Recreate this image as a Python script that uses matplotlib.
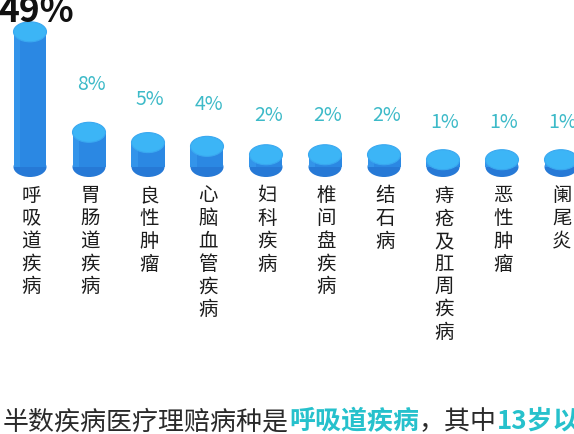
import numpy as np
import matplotlib.pyplot as plt
from matplotlib.patches import Ellipse, Rectangle
from matplotlib.transforms import blended_transform_factory, IdentityTransform

plt.rcParams['font.family'] = ['Noto Sans CJK SC', 'DejaVu Sans']

# data
categories = ['呼吸道疾病', '胃肠道疾病', '良性肿瘤', '心脑血管疾病', '妇科疾病',
              '椎间盘疾病', '结石病', '痔疮及肛周疾病', '恶性肿瘤', '阑尾炎']
values = [49, 8, 5, 4, 2, 2, 2, 1, 1, 1]
value_labels = ['49%', '8%', '5%', '4%', '2%', '2%', '2%', '1%', '1%', '1%']
caption_parts = [('半数疾病医疗理赔病种是', '#2a2a2a', 'medium'),
                 ('呼吸道疾病', '#26c1cc', 'bold'),
                 ('，其中', '#2a2a2a', 'medium'),
                 ('13岁以', '#26c1cc', 'bold')]

W, H = 574, 435
px_per_x = 59.0      # pixel distance between bars
px_per_unit = 7.3    # pixels per unit of the power scale
base_px = 168        # pixel row of bottom ellipse centre
first_px = 30
power = 0.75         # the original chart squashes tall bars


def fwd(y):
    y = np.asarray(y, dtype=float)
    return np.sign(y) * np.abs(y) ** power


def inv(y):
    y = np.asarray(y, dtype=float)
    return np.sign(y) * np.abs(y) ** (1 / power)


top_col = '#3cb5f6'
body_col = '#2b88e3'
side_col = '#2679d6'
label_col = '#3dbac8'

fig = plt.figure(figsize=(W / 100, H / 100), dpi=100)
ax = fig.add_axes([0, 0, 1, 1])
ax.set_yscale('function', functions=(fwd, inv))
ax.set_xlim(-first_px / px_per_x, (W - first_px) / px_per_x)
ax.set_ylim(float(inv(-(H - base_px) / px_per_unit)), float(inv(base_px / px_per_unit)))
ax.axis('off')

cyl_w_px = 33
ell_h_px = 20
cyl_w = cyl_w_px / px_per_x

x = np.arange(len(categories))
for i, v in zip(x, values):
    bx, by = ax.transData.transform((i, 0))
    tx, ty = ax.transData.transform((i, v))
    ax.add_patch(Ellipse((bx, by), cyl_w_px, ell_h_px, color=side_col, lw=0,
                         transform=IdentityTransform(), zorder=1))
    ax.add_patch(Rectangle((i - cyl_w / 2, 0), cyl_w, v, color=body_col, lw=0, zorder=2))
    ax.add_patch(Rectangle((i - cyl_w / 2, 0), cyl_w * 0.2, v, color='#3394ea', lw=0, zorder=2))
    ax.add_patch(Ellipse((tx, ty), cyl_w_px, ell_h_px, facecolor=top_col,
                         edgecolor='#3aa8f0', lw=0.8, transform=IdentityTransform(), zorder=3))

# value labels
for i, v, lab in zip(x, values, value_labels):
    if i == 0:
        ax.annotate(lab, (i, v), xytext=(4.5, 8), textcoords='offset points',
                    ha='center', va='baseline', fontsize=25.5, fontweight='bold',
                    color='#111111', zorder=5)
    else:
        off = (37 + 1.5 * v) * 0.72
        ax.annotate(lab, (i, v), xytext=(1.5, off), textcoords='offset points',
                    ha='center', va='center', fontsize=14, fontweight='medium',
                    color=label_col)

# vertical category names, one character per row
trans = blended_transform_factory(ax.transData, ax.transAxes)
for i, name in zip(x, categories):
    for j, ch in enumerate(name):
        py = 196 + j * 22.7
        ax.text(i + 1 / px_per_x, 1 - py / H, ch, transform=trans, ha='center',
                va='center', fontsize=14, fontweight='medium', color='#1c1c1c')

# caption with coloured parts
prev = ax.text(3 / W, 1 - 429 / H, caption_parts[0][0], transform=ax.transAxes,
               ha='left', va='baseline', fontsize=18.7, color=caption_parts[0][1],
               fontweight=caption_parts[0][2])
for s, c, w in caption_parts[1:]:
    prev = ax.annotate(s, xy=(1, 0), xycoords=prev, ha='left', va='bottom',
                       fontsize=18.7, color=c, fontweight=w)

fig.savefig('out.png', dpi=100)
